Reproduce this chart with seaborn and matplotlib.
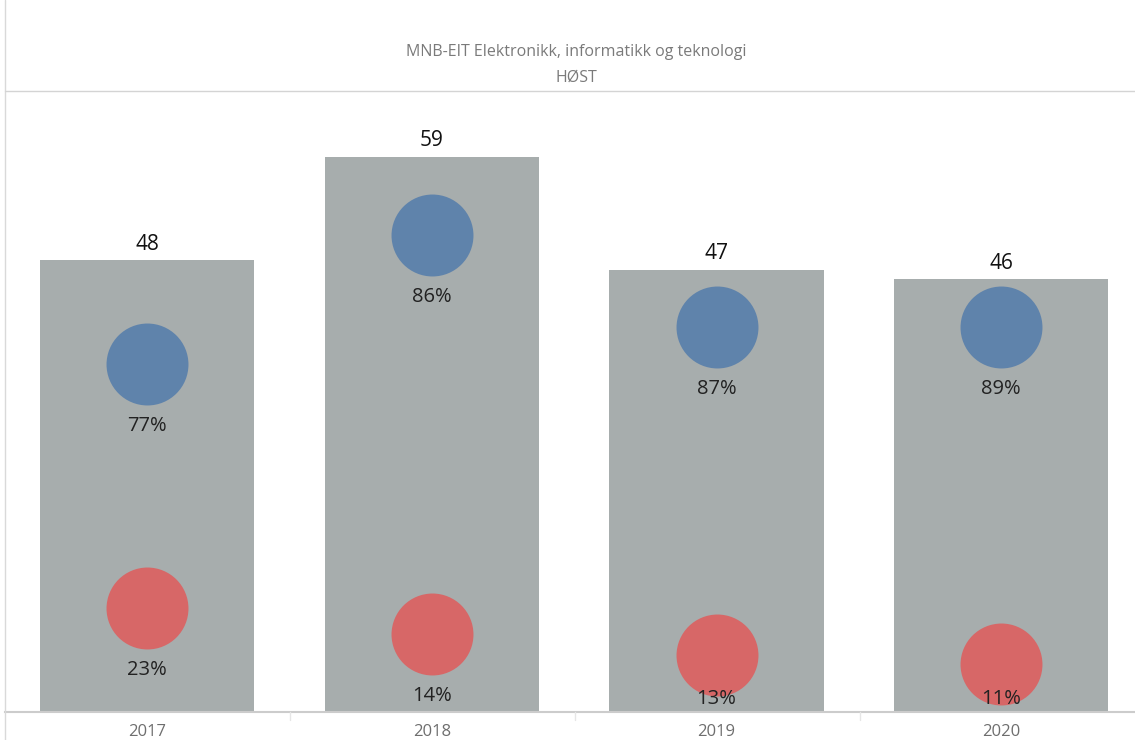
import matplotlib
matplotlib.use("Agg")
import matplotlib.pyplot as plt
import seaborn as sns
import pandas as pd
from matplotlib.lines import Line2D

years = ["2017", "2018", "2019", "2020"]
totals = [48, 59, 47, 46]
pct_blue = [77, 86, 87, 89]
pct_red = [23, 14, 13, 11]

title1 = "MNB-EIT Elektronikk, informatikk og teknologi"
title2 = "HØST"

sns.set_theme(style="white")
plt.rcParams['font.family'] = ['Open Sans', 'DejaVu Sans']

bar_df = pd.DataFrame({"year": years, "total": totals})
blue_df = pd.DataFrame({"year": years, "pct": pct_blue,
                        "y": [t * p / 100 for t, p in zip(totals, pct_blue)]})
red_df = pd.DataFrame({"year": years, "pct": pct_red,
                       "y": [t * p / 100 for t, p in zip(totals, pct_red)]})

W, H = 1135, 740
fig = plt.figure(figsize=(W / 100, H / 100), dpi=100)
ax = fig.add_axes([5 / W, (H - 712) / H, 1130 / W, (712 - 91) / H])

sns.barplot(data=bar_df, x="year", y="total", order=years, color="#a7adad",
            width=0.753, saturation=1, ax=ax, edgecolor="none")
sns.stripplot(data=blue_df, x="year", y="y", order=years, jitter=False,
              color="#5f83ab", size=59, linewidth=0, ax=ax, zorder=3)
sns.stripplot(data=red_df, x="year", y="y", order=years, jitter=False,
              color="#d76767", size=59, linewidth=0, ax=ax, zorder=3)

YMAX = 66
ax.set_xlim(-0.5, 3.47)
ax.set_ylim(0, YMAX)
ax.set_xlabel("")
ax.set_ylabel("")
ax.set_yticks([])
for s in ["top", "left", "right"]:
    ax.spines[s].set_visible(False)
ax.spines["bottom"].set_color("#cccccc")
ax.spines["bottom"].set_linewidth(1.5)
ax.tick_params(axis="x", length=0, labelsize=12, labelcolor="#6e6e6e", pad=9)

px_per_unit = (712 - 91) / YMAX
for i, t in enumerate(totals):
    ax.annotate(str(t), (i, t), xytext=(0, 4), textcoords="offset points",
                ha="center", va="bottom", fontsize=15, color="#111111")
label_off = 62 / px_per_unit
label_min = 13 / px_per_unit
for df in (blue_df, red_df):
    for i, (p, y) in enumerate(zip(df["pct"], df["y"])):
        ly = max(y - label_off, label_min)
        ax.text(i, ly, f"{p}%", ha="center", va="center", fontsize=14.5,
                color="#222222", zorder=5)

# category dividers
for x in [290, 575, 860]:
    fig.add_artist(Line2D([x / W, x / W], [(H - 720) / H, (H - 712) / H],
                          color="#e6e6e6", lw=1))

# frame lines
fig.add_artist(Line2D([5 / W, 5 / W], [0, 1], color="#d9d9d9", lw=1))
fig.add_artist(Line2D([5 / W, 1], [(H - 91) / H, (H - 91) / H], color="#d4d4d4", lw=1))

fig.text(576 / W, 1 - 52 / H, title1, ha="center", va="center",
         fontsize=11.5, color="#7a7a7a")
fig.text(576 / W, 1 - 78 / H, title2, ha="center", va="center",
         fontsize=11.5, color="#7a7a7a")

fig.savefig("out.png", dpi=100)
